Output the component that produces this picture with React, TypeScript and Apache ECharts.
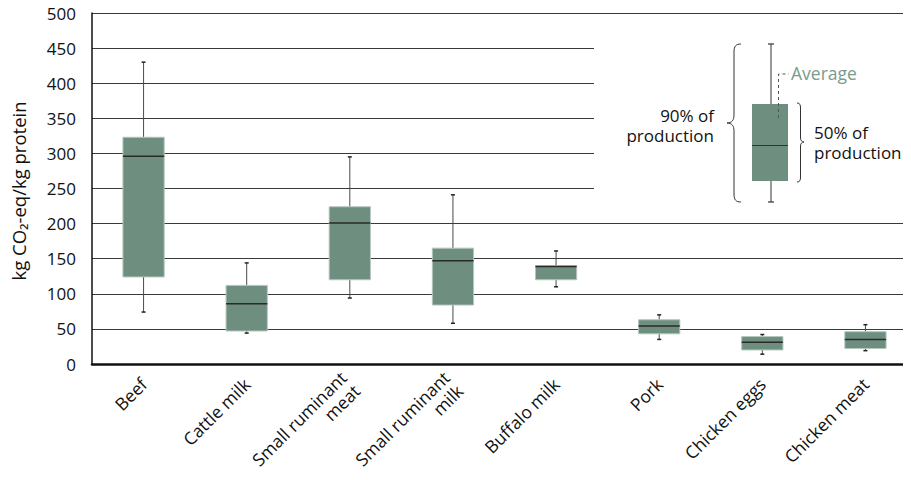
import React, { useEffect, useRef } from "react";
import * as echarts from "echarts";

const categories = [
  "Beef",
  "Cattle milk",
  "Small ruminant\nmeat",
  "Small ruminant\nmilk",
  "Buffalo milk",
  "Pork",
  "Chicken eggs",
  "Chicken meat",
];
// [low whisker, Q1, median, Q3, high whisker]
const lows = [74, 44, 94, 58, 110, 35, 14, 19];
const q1s = [124, 47, 120, 84, 120, 43, 20, 22];
const medians = [296, 86, 201, 147, 139, 54, 31, 35];
const q3s = [323, 112, 224, 165, 140, 63, 39, 46];
const highs = [430, 144, 295, 241, 161, 70, 42, 56];
const yTicks = { min: 0, max: 500, interval: 50 };

const FONT = "'Open Sans', 'Noto Sans', sans-serif";
const BOX_FILL = "#6e8e80";
const BOX_BORDER = "#b4c6bd";
const LABEL_LH = 19;

echarts.graphic.registerShape(
  "leftBrace",
  echarts.graphic.extendPath(
    "M741,44 C736,44 734,46 734,52 L734,115 C734,120 732,123 727,123 C732,123 734,126 734,131 L734,194 C734,200 736,202 741,202",
    {}
  )
);
echarts.graphic.registerShape(
  "rightBrace",
  echarts.graphic.extendPath(
    "M797,103 C800,103 800.5,105 800.5,108 L800.5,138 C800.5,140.5 802,142 804,142 C802,142 800.5,143.5 800.5,146 L800.5,177 C800.5,180 800,182 797,182",
    {}
  )
);

export default function App() {
  const ref = useRef<HTMLDivElement>(null);
  useEffect(() => {
    if (!ref.current) return;
    const chart = echarts.init(ref.current, null, { renderer: "svg" });
    const data = categories.map((_, i) => [i, lows[i], q1s[i], medians[i], q3s[i], highs[i]]);
    const catData = categories.map((c) =>
      c.includes("\n") ? { value: c, textStyle: { padding: [LABEL_LH, 0, 0, 0] } } : c
    );
    const legendText = (text: string, x: number, y: number, align: string) => ({
      type: "text",
      z: 12,
      x,
      y,
      style: { text, fontSize: 17, fontFamily: FONT, fill: "#111", align, verticalAlign: "middle" },
    });
    const option: any = {
      animation: false,
      backgroundColor: "#fff",
      textStyle: { fontFamily: FONT },
      grid: {
        left: 92,
        right: -6,
        top: 13,
        bottom: 116,
        containLabel: false,
        outerBoundsMode: "none",
      },
      xAxis: {
        type: "category",
        data: catData,
        boundaryGap: true,
        axisLine: { show: true, lineStyle: { color: "#111", width: 2.5 } },
        axisTick: { show: false },
        splitLine: { show: false },
        axisLabel: {
          interval: 0,
          rotate: 45,
          margin: 17,
          fontSize: 17.5,
          color: "#111",
          fontFamily: FONT,
          lineHeight: LABEL_LH,
        },
      },
      yAxis: {
        type: "value",
        min: yTicks.min,
        max: yTicks.max,
        interval: yTicks.interval,
        axisLine: { show: true, lineStyle: { color: "#111", width: 1.5 } },
        axisTick: { show: false },
        splitLine: { show: true, lineStyle: { color: "#3a3a3a", width: 1 } },
        axisLabel: { fontSize: 17, color: "#111", margin: 16, fontFamily: FONT },
      },
      series: [
        {
          type: "custom",
          data,
          encode: { x: 0, y: [1, 2, 3, 4, 5] },
          z: 3,
          renderItem: (params: any, api: any) => {
            const i = api.value(0);
            const [x, yLow] = api.coord([i, api.value(1)]);
            const yQ1 = api.coord([i, api.value(2)])[1];
            const yMed = api.coord([i, api.value(3)])[1];
            const yQ3 = api.coord([i, api.value(4)])[1];
            const yHigh = api.coord([i, api.value(5)])[1];
            const bw = api.size([1, 0])[0] * 0.4;
            const cap = 2;
            const wStyle = { stroke: "#4a4a4a", lineWidth: 1 };
            const cStyle = { stroke: "#222", lineWidth: 1.5 };
            return {
              type: "group",
              children: [
                { type: "line", shape: { x1: x, y1: yLow, x2: x, y2: yQ1 }, style: wStyle },
                { type: "line", shape: { x1: x, y1: yQ3, x2: x, y2: yHigh }, style: wStyle },
                { type: "line", shape: { x1: x - cap, y1: yLow, x2: x + cap, y2: yLow }, style: cStyle },
                { type: "line", shape: { x1: x - cap, y1: yHigh, x2: x + cap, y2: yHigh }, style: cStyle },
                {
                  type: "rect",
                  shape: { x: x - bw / 2, y: yQ3, width: bw, height: yQ1 - yQ3 },
                  style: { fill: BOX_FILL, stroke: BOX_BORDER, lineWidth: 1 },
                },
                {
                  type: "line",
                  shape: { x1: x - bw / 2, y1: yMed, x2: x + bw / 2, y2: yMed },
                  style: { stroke: "#2a2a2a", lineWidth: 1.5 },
                },
              ],
            };
          },
        },
      ],
      graphic: [
        {
          type: "text",
          x: 18,
          y: 191,
          rotation: Math.PI / 2,
          style: {
            text: "kg CO₂-eq/kg protein",
            fontSize: 18.5,
            fontFamily: FONT,
            fill: "#111",
            align: "center",
            verticalAlign: "middle",
          },
        },
        {
          type: "rect",
          z: 10,
          shape: { x: 594, y: 22, width: 330, height: 182 },
          style: { fill: "#fff" },
        },
        { type: "line", z: 11, shape: { x1: 771, y1: 44, x2: 771, y2: 104 }, style: { stroke: "#333", lineWidth: 1 } },
        { type: "line", z: 11, shape: { x1: 771, y1: 181, x2: 771, y2: 202 }, style: { stroke: "#333", lineWidth: 1 } },
        { type: "line", z: 11, shape: { x1: 768, y1: 44, x2: 774, y2: 44 }, style: { stroke: "#333", lineWidth: 1.2 } },
        { type: "line", z: 11, shape: { x1: 768, y1: 202, x2: 774, y2: 202 }, style: { stroke: "#333", lineWidth: 1.2 } },
        {
          type: "rect",
          z: 11,
          shape: { x: 752, y: 104, width: 36, height: 77 },
          style: { fill: BOX_FILL },
        },
        { type: "line", z: 12, shape: { x1: 752, y1: 145.5, x2: 788, y2: 145.5 }, style: { stroke: "#333", lineWidth: 1 } },
        {
          type: "polyline",
          z: 12,
          shape: { points: [[778.5, 118], [778.5, 74], [789, 74]] },
          style: { stroke: "#555", lineWidth: 1, lineDash: [3, 3], fill: "none" },
        },
        {
          type: "text",
          z: 12,
          x: 791,
          y: 73,
          style: { text: "Average", fontSize: 17.5, fontFamily: FONT, fill: "#7a9a8c", align: "left", verticalAlign: "middle" },
        },
        { type: "leftBrace", z: 12, style: { stroke: "#333", lineWidth: 1, fill: "none" } },
        { type: "rightBrace", z: 12, style: { stroke: "#333", lineWidth: 1, fill: "none" } },
        legendText("90% of", 714, 115, "right"),
        legendText("production", 714, 135.5, "right"),
        legendText("50% of", 814, 132, "left"),
        legendText("production", 814, 152.5, "left"),
      ],
    };
    chart.setOption(option);
    return () => chart.dispose();
  }, []);
  return <div ref={ref} style={{ width: 911, height: 480, margin: -8 }} />;
}
